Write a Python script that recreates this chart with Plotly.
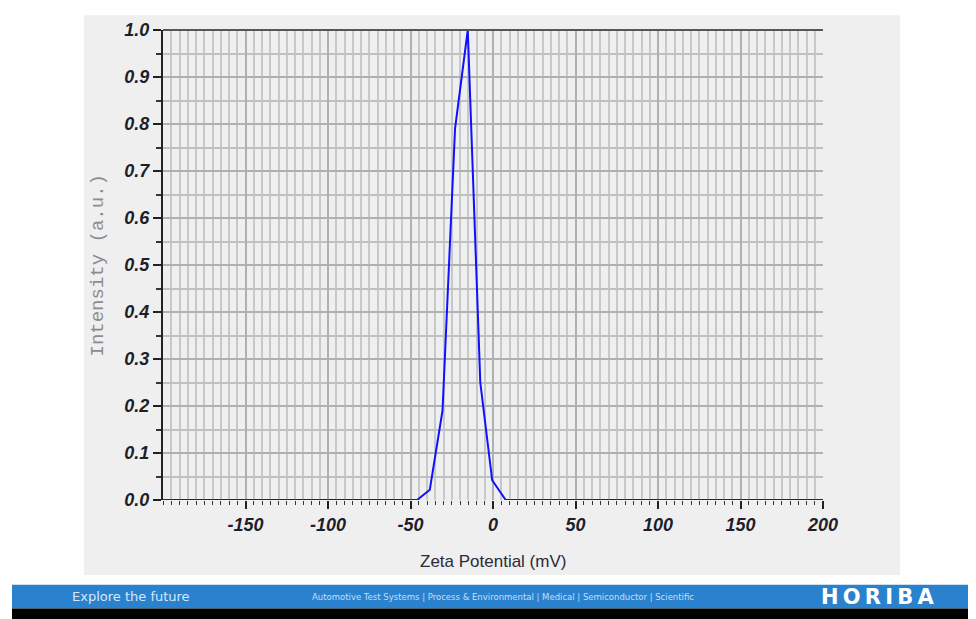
import plotly.graph_objects as go

# ---- data ----
zeta_mv = [-200, -46.0, -38.3, -30.6, -23.0, -15.3, -7.7, -0.5, 7.7, 200]
intensity = [0.0, 0.0, 0.022, 0.19, 0.79, 1.0, 0.25, 0.042, 0.0, 0.0]
x_tick_vals = [-150, -100, -50, 0, 50, 100, 150, 200]
x_tick_text = ["-150", "-100", "-50", "0", "50", "100", "150", "200"]

OFF = 8  # page body margin
W, H = 976 - OFF, 619 - OFF
L, R, T, B = 163, 823, 23, 500  # plot area in page pixels


def px(x):
    return (x - L) / (R - L)


def py(y):
    return (B - y) / (B - T)


fig = go.Figure()
fig.add_trace(go.Scatter(
    x=zeta_mv, y=intensity, mode="lines",
    line=dict(color="#1010ff", width=2),
    cliponaxis=False, hoverinfo="skip", showlegend=False,
))

tickfont = dict(family="Liberation Sans, Arial, sans-serif", size=18,
                color="#1e1e2a", style="italic", weight="bold")

fig.update_layout(
    width=W, height=H,
    margin=dict(l=L - OFF, r=W - (R - OFF), t=T - OFF, b=H - (B - OFF), pad=0),
    paper_bgcolor="white", plot_bgcolor="white",
    xaxis=dict(
        range=[-200, 200], tickmode="array", tickvals=x_tick_vals, ticktext=x_tick_text,
        ticks="outside", ticklen=8, tickwidth=1.5, tickcolor="#222",
        showgrid=True, gridcolor="#b0b0b0", gridwidth=1.5,
        showline=False, zeroline=False, tickfont=tickfont,
        minor=dict(dtick=5, tick0=0, ticks="outside", ticklen=4, tickwidth=1.2,
                   tickcolor="#333", showgrid=True, gridcolor="#c8c8c8", gridwidth=1.5),
        layer="above traces", fixedrange=True,
    ),
    yaxis=dict(
        range=[0, 1], dtick=0.1, tick0=0, tickformat=".1f",
        ticks="outside", ticklen=8, tickwidth=1.5, tickcolor="#222",
        showgrid=True, gridcolor="#b0b0b0", gridwidth=1.5,
        showline=True, linecolor="#222", linewidth=2, zeroline=False,
        tickfont=tickfont,
        minor=dict(dtick=0.05, tick0=0, ticks="outside", ticklen=5, tickwidth=1.5,
                   tickcolor="#333", showgrid=True, gridcolor="#c0c0c0", gridwidth=1.5),
        layer="above traces", fixedrange=True,
    ),
    shapes=[
        # grey panel behind the chart
        dict(type="rect", xref="paper", yref="paper", layer="below",
             x0=px(84), x1=px(900), y0=py(576), y1=py(8),
             fillcolor="#efefef", line=dict(width=0)),
        # top border line
        dict(type="line", xref="paper", yref="paper", layer="above",
             x0=0, x1=1, y0=1, y1=1, line=dict(color="#555", width=2)),
        # footer blue bar
        dict(type="rect", xref="paper", yref="paper", layer="below",
             x0=px(12), x1=px(980), y0=py(610), y1=py(586),
             fillcolor="#2a82cf", line=dict(width=0)),
        # footer black bar
        dict(type="rect", xref="paper", yref="paper", layer="below",
             x0=px(12), x1=px(980), y0=py(622), y1=py(610),
             fillcolor="#000000", line=dict(width=0)),
    ],
    annotations=[
        dict(text="Zeta Potential (mV)", xref="paper", yref="paper",
             x=px(493), y=py(562), showarrow=False, xanchor="center", yanchor="middle",
             font=dict(family="Liberation Sans, Arial, sans-serif", size=17, color="#2a2a3a")),
        dict(text="Intensity (a.u.)", xref="paper", yref="paper", textangle=-90,
             x=px(98), y=py(262), showarrow=False, xanchor="center", yanchor="middle",
             font=dict(family="Liberation Mono, Courier New, monospace", size=19, color="#8c8c8c")),
        dict(text="Explore the future", xref="paper", yref="paper",
             x=px(131), y=py(598), showarrow=False, xanchor="center", yanchor="middle",
             font=dict(family="DejaVu Sans, sans-serif", size=13, color="#d6e8f7")),
        dict(text="Automotive Test Systems | Process & Environmental | Medical | Semiconductor | Scientific",
             xref="paper", yref="paper",
             x=px(503), y=py(598), showarrow=False, xanchor="center", yanchor="middle",
             font=dict(family="DejaVu Sans, sans-serif", size=8.5, color="#c8def2")),
        dict(text="H\u2009O\u2009R\u2009I\u2009B\u2009A", xref="paper", yref="paper",
             x=px(877), y=py(598), showarrow=False, xanchor="center", yanchor="middle",
             font=dict(family="DejaVu Sans, sans-serif", size=21, color="white", weight="bold")),
    ],
)

fig.write_html("out.html")
